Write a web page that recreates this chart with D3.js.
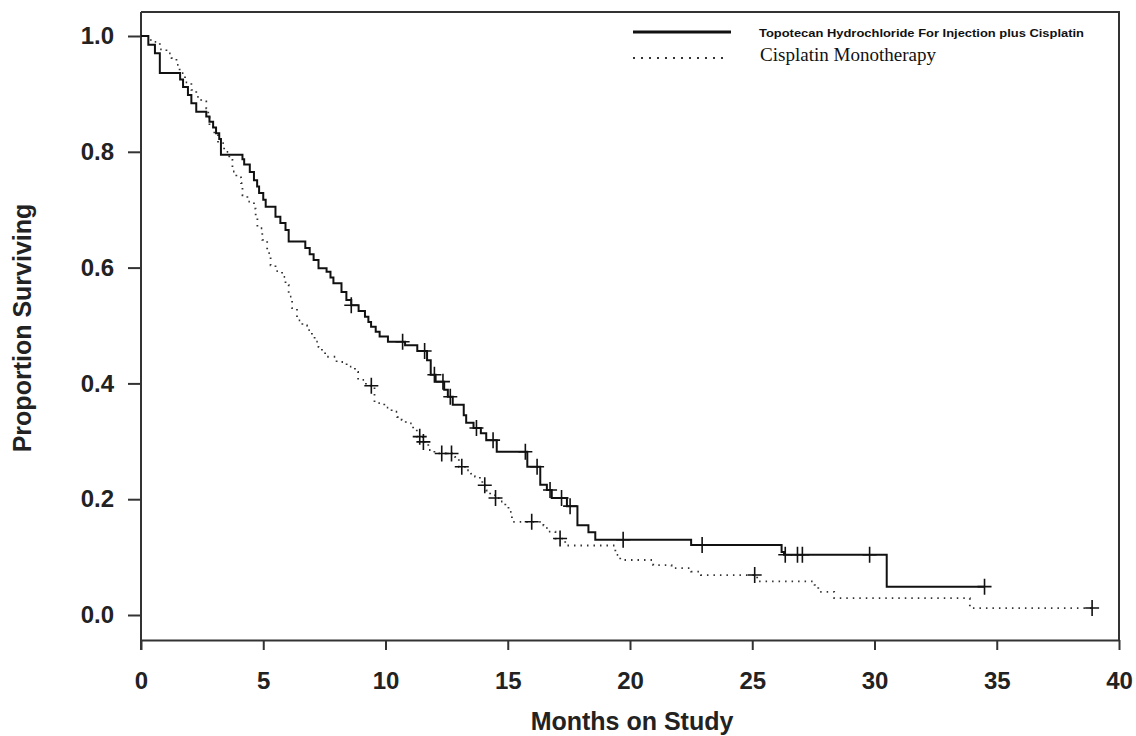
<!DOCTYPE html>
<html>
<head>
<meta charset="utf-8">
<script src="https://cdn.jsdelivr.net/npm/d3@7"></script>
<style>
  body { margin: 0; background: #fff; }
  #root { width: 1136px; height: 736px; }
  .axis text { font-family: "Liberation Sans", Arial, sans-serif; font-weight: bold; font-size: 24px; fill: #222; }
  .axis path, .axis line { stroke: #333; stroke-width: 2; }
</style>
</head>
<body>
<div id="root"></div>
<script>
// Topotecan + cisplatin arm: step times (months) and survival after each step
const topoTimes = [0, 0.3, 0.57, 0.77, 1.6, 1.72, 1.92, 2.06, 2.26, 2.67, 2.8, 2.95, 3.07, 3.2, 3.27,
  4.15, 4.22, 4.45, 4.62, 4.75, 4.83, 5.0, 5.1, 5.5, 5.7, 5.91, 6.04, 6.72, 6.9, 7.06, 7.26, 7.59,
  7.75, 7.87, 8.2, 8.4, 8.6, 8.9, 9.16, 9.3, 9.41, 9.6, 9.76, 10.1, 10.8, 11.3, 11.7, 11.85, 12.05,
  12.4, 12.55, 12.75, 13.2, 13.3, 13.6, 13.9, 14.12, 14.55, 15.8, 16.33, 16.6, 16.8, 17.42,
  17.85, 18.3, 18.58, 22.5, 26.2, 26.3, 30.5];
const topoSurv = [1.0, 0.985, 0.97, 0.936, 0.925, 0.912, 0.898, 0.884, 0.869, 0.861, 0.852, 0.842, 0.832, 0.822, 0.795,
  0.787, 0.778, 0.765, 0.751, 0.74, 0.729, 0.717, 0.705, 0.688, 0.677, 0.665, 0.645, 0.634, 0.623, 0.613, 0.599, 0.593,
  0.583, 0.573, 0.558, 0.544, 0.535, 0.525, 0.515, 0.506, 0.498, 0.489, 0.481, 0.472, 0.466, 0.456, 0.44, 0.415, 0.403,
  0.389, 0.377, 0.363, 0.345, 0.332, 0.323, 0.314, 0.302, 0.282, 0.256, 0.225, 0.216, 0.202, 0.188,
  0.155, 0.143, 0.13, 0.121, 0.109, 0.104, 0.049];
const topoCensor = [8.6, 10.7, 11.6, 12.0, 12.35, 12.65, 13.72, 14.4, 15.72, 16.2, 16.73, 17.2, 17.55,
  19.72, 22.95, 26.35, 26.85, 27.05, 29.8, 34.5];
const topoEnd = 34.5;

// Cisplatin monotherapy arm
const cisTimes = [0, 0.4, 0.77, 1.04, 1.25, 1.45, 1.58, 1.8, 2.06, 2.26, 2.46, 2.67, 2.75, 2.8, 3.0, 3.15, 3.4,
  3.61, 3.74, 3.9, 4.09, 4.15, 4.35, 4.62, 4.69, 4.76, 4.96, 5.16, 5.3, 5.5, 5.77, 5.91, 6.04, 6.18, 6.38,
  6.6, 6.79, 6.99, 7.1, 7.26, 7.4, 7.53, 8.0, 8.41, 8.75, 8.88, 9.2, 9.55, 9.95, 10.25, 10.48, 10.66, 10.83,
  11.13, 11.28, 11.53, 11.75, 12.0, 12.84, 13.0, 13.32, 13.5, 13.66, 13.86, 13.96, 14.12, 14.28, 14.48,
  14.68, 14.9, 15.03, 15.17, 16.46, 16.6, 16.95, 17.35, 19.4, 19.6, 20.95, 21.7, 22.5, 22.9, 25.2,
  27.55, 27.7, 28.35, 33.9];
const cisSurv = [1.0, 0.99, 0.977, 0.97, 0.962, 0.95, 0.936, 0.92, 0.907, 0.895, 0.887, 0.875, 0.86, 0.843, 0.83, 0.815, 0.8,
  0.786, 0.766, 0.756, 0.746, 0.725, 0.714, 0.702, 0.688, 0.668, 0.648, 0.625, 0.604, 0.594, 0.584, 0.57, 0.55, 0.53, 0.509,
  0.5, 0.492, 0.481, 0.472, 0.463, 0.455, 0.446, 0.437, 0.429, 0.42, 0.406, 0.396, 0.366, 0.358, 0.351, 0.342, 0.337, 0.331,
  0.322, 0.308, 0.299, 0.285, 0.279, 0.273, 0.256, 0.25, 0.244, 0.239, 0.233, 0.224, 0.215, 0.207, 0.202,
  0.196, 0.187, 0.178, 0.161, 0.155, 0.144, 0.132, 0.12, 0.104, 0.095, 0.086, 0.081, 0.075, 0.069, 0.058,
  0.052, 0.04, 0.029, 0.012];
const cisCensor = [9.42, 11.4, 11.55, 12.3, 12.7, 13.12, 14.06, 14.5, 15.98, 17.14, 25.1, 38.9];
const cisEnd = 38.9;

const xTicks = [0, 5, 10, 15, 20, 25, 30, 35, 40];
const yTicks = [0, 0.2, 0.4, 0.6, 0.8, 1.0];
const legendLabels = ['Topotecan Hydrochloride For Injection plus Cisplatin', 'Cisplatin Monotherapy'];

const svg = d3.select('#root').append('svg')
  .attr('width', 1136)
  .attr('height', 736);

const x = d3.scaleLinear().domain([0, 40]).range([141, 1119]);
const y = d3.scaleLinear().domain([0, 1]).range([615, 36]);

// frame
svg.append('path')
  .attr('d', 'M141 12 L1119 12 L1119 640')
  .attr('fill', 'none')
  .attr('stroke', '#333')
  .attr('stroke-width', 2);

svg.append('g')
  .attr('class', 'axis')
  .attr('transform', 'translate(141,0)')
  .call(d3.axisLeft(y).tickValues(yTicks).tickFormat(d3.format('.1f'))
    .tickSize(13).tickSizeOuter(0).tickPadding(14))
  .call(g => g.select('.domain').attr('d', 'M0 12 L0 650'));

svg.append('g')
  .attr('class', 'axis')
  .attr('transform', 'translate(0,640)')
  .call(d3.axisBottom(x).tickValues(xTicks).tickSize(10).tickSizeOuter(0).tickPadding(22));

svg.append('text')
  .attr('transform', 'translate(24,328) rotate(-90)')
  .attr('text-anchor', 'middle')
  .attr('dominant-baseline', 'middle')
  .style('font-family', '"Liberation Sans", Arial, sans-serif')
  .style('font-weight', 'bold')
  .style('font-size', '25px')
  .style('fill', '#222')
  .text('Proportion Surviving');

svg.append('text')
  .attr('x', 632)
  .attr('y', 723)
  .attr('text-anchor', 'middle')
  .attr('dominant-baseline', 'middle')
  .style('font-family', '"Liberation Sans", Arial, sans-serif')
  .style('font-weight', 'bold')
  .style('font-size', '25px')
  .style('fill', '#222')
  .text('Months on Study');

function stepPoints(times, surv, end) {
  const pts = times.map((t, i) => [t, surv[i]]);
  pts.push([end, surv[surv.length - 1]]);
  return pts;
}

function survAt(times, surv, t) {
  const i = d3.bisectRight(times, t) - 1;
  return surv[Math.max(i, 0)];
}

const line = d3.line()
  .x(d => x(d[0]))
  .y(d => y(d[1]))
  .curve(d3.curveStepAfter);

const series = [
  { times: cisTimes, surv: cisSurv, censor: cisCensor, end: cisEnd, dash: '1.5,5', width: 1.8, color: '#333' },
  { times: topoTimes, surv: topoSurv, censor: topoCensor, end: topoEnd, dash: null, width: 2, color: '#111' },
];

series.forEach(s => {
  svg.append('path')
    .datum(stepPoints(s.times, s.surv, s.end))
    .attr('d', line)
    .attr('fill', 'none')
    .attr('stroke', s.color)
    .attr('stroke-width', s.width)
    .attr('stroke-dasharray', s.dash);

  svg.append('g')
    .selectAll('path')
    .data(s.censor)
    .enter()
    .append('path')
      .attr('d', t => {
        const cx = x(t), cy = y(survAt(s.times, s.surv, t));
        return 'M' + (cx - 7) + ' ' + cy + ' L' + (cx + 7) + ' ' + cy +
          ' M' + cx + ' ' + (cy - 8) + ' L' + cx + ' ' + (cy + 8);
      })
      .attr('stroke', '#111')
      .attr('stroke-width', 1.6)
      .attr('fill', 'none');
});

// legend
const legend = svg.append('g');
legend.append('line')
  .attr('x1', 633).attr('x2', 731).attr('y1', 32).attr('y2', 32)
  .attr('stroke', '#111').attr('stroke-width', 3);
legend.append('line')
  .attr('x1', 633).attr('x2', 729).attr('y1', 58).attr('y2', 58)
  .attr('stroke', '#333').attr('stroke-width', 2).attr('stroke-dasharray', '2,6');
legend.append('text')
  .attr('x', 759).attr('y', 34)
  .attr('dominant-baseline', 'middle')
  .attr('textLength', 325)
  .attr('lengthAdjust', 'spacingAndGlyphs')
  .style('font-family', '"Liberation Sans", Arial, sans-serif')
  .style('font-weight', 'bold')
  .style('font-size', '11px')
  .style('fill', '#111')
  .text(legendLabels[0]);
legend.append('text')
  .attr('x', 760).attr('y', 57)
  .attr('dominant-baseline', 'middle')
  .attr('textLength', 176)
  .attr('lengthAdjust', 'spacingAndGlyphs')
  .style('font-family', '"Liberation Serif", "Times New Roman", serif')
  .style('font-size', '18px')
  .style('fill', '#111')
  .text(legendLabels[1]);
</script>
</body>
</html>
